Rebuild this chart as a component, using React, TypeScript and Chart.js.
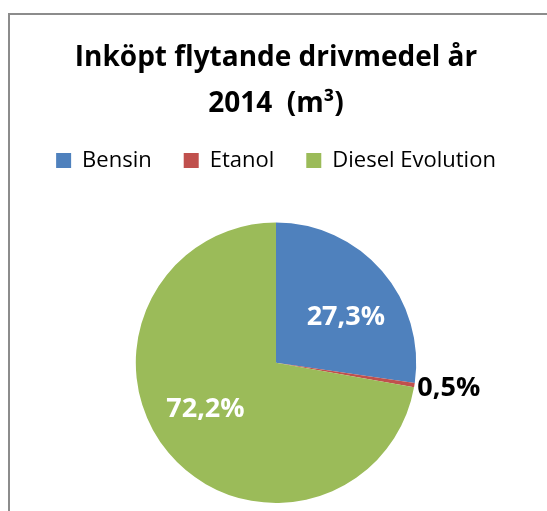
import React, { useEffect, useRef } from "react";
import { Chart, registerables } from "chart.js";

Chart.register(...registerables);

const categories = ["Bensin", "Etanol", "Diesel Evolution"];
const shares = [27.3, 0.5, 72.2];
const shareLabels = ["27,3%", "0,5%", "72,2%"];
const colors = ["#4F81BD", "#C0504D", "#9BBB59"];
const titleLine1 = "Inköpt flytande drivmedel år";
const titleLine2 = "2014  (m³)";

const FONT = "'Open Sans'";

const legendMargin = {
  id: "legendMargin",
  beforeInit(chart: any) {
    const legend = chart.legend;
    if (!legend) return;
    const fit = legend.fit;
    legend.fit = function () {
      fit.call(this);
      this.height += 41;
    };
  },
};

const sliceLabels = {
  id: "sliceLabels",
  afterDatasetsDraw(chart: any) {
    const ctx = chart.ctx;
    const meta = chart.getDatasetMeta(0);
    meta.data.forEach((arc: any, i: number) => {
      const { x, y, startAngle, endAngle, outerRadius } = arc.getProps(
        ["x", "y", "startAngle", "endAngle", "outerRadius"],
        true
      );
      const mid = (startAngle + endAngle) / 2;
      const span = endAngle - startAngle;
      ctx.save();
      ctx.font = `bold 27px ${FONT}`;
      ctx.textBaseline = "middle";
      if (span < 0.2) {
        const r = outerRadius + 3;
        ctx.fillStyle = "#000000";
        ctx.textAlign = "left";
        ctx.fillText(shareLabels[i], x + r * Math.cos(mid), y + r * Math.sin(mid) + 3);
      } else {
        const a = mid + (7 * Math.PI) / 180;
        const r = outerRadius * 0.6;
        ctx.fillStyle = "#FFFFFF";
        ctx.textAlign = "center";
        ctx.fillText(shareLabels[i], x + r * Math.cos(a), y + r * Math.sin(a) + 1);
      }
      ctx.restore();
    });
  },
};

export default function App() {
  const ref = useRef<HTMLCanvasElement | null>(null);
  useEffect(() => {
    if (!ref.current) return;
    const chart = new Chart(ref.current, {
      type: "pie",
      data: {
        labels: categories,
        datasets: [
          {
            data: shares,
            backgroundColor: colors,
            borderWidth: 0,
            hoverOffset: 0,
          },
        ],
      },
      options: {
        responsive: false,
        animation: false,
        layout: { padding: { top: 0, left: 5, right: 0, bottom: 8 } },
        plugins: {
          tooltip: { enabled: false },
          title: {
            display: true,
            text: titleLine1,
            color: "#000000",
            font: { family: FONT, size: 28, weight: "bold", lineHeight: 1.2 },
            padding: { top: 41, bottom: 0 },
          },
          subtitle: {
            display: true,
            text: titleLine2,
            color: "#000000",
            font: { family: FONT, size: 28, weight: "bold", lineHeight: 1.0 },
            padding: { top: 15, bottom: 0 },
          },
          legend: {
            display: true,
            position: "top",
            labels: {
              boxWidth: 15,
              boxHeight: 15,
              padding: 32,
              color: "#000000",
              font: { family: FONT, size: 22 },
            },
          },
        },
      },
      plugins: [legendMargin, sliceLabels],
    });
    return () => chart.destroy();
  }, []);

  return (
    <div
      style={{
        position: "fixed",
        left: 0,
        top: 0,
        width: 547,
        height: 511,
        overflow: "hidden",
        background: "#ffffff",
      }}
    >
      <div
        style={{
          position: "absolute",
          left: 8,
          top: 13,
          width: 700,
          height: 700,
          border: "2px solid #8C8C8C",
          boxSizing: "border-box",
        }}
      />
      <canvas
        ref={ref}
        width={547}
        height={511}
        style={{ position: "absolute", left: 0, top: 0, width: 547, height: 511 }}
      />
    </div>
  );
}
